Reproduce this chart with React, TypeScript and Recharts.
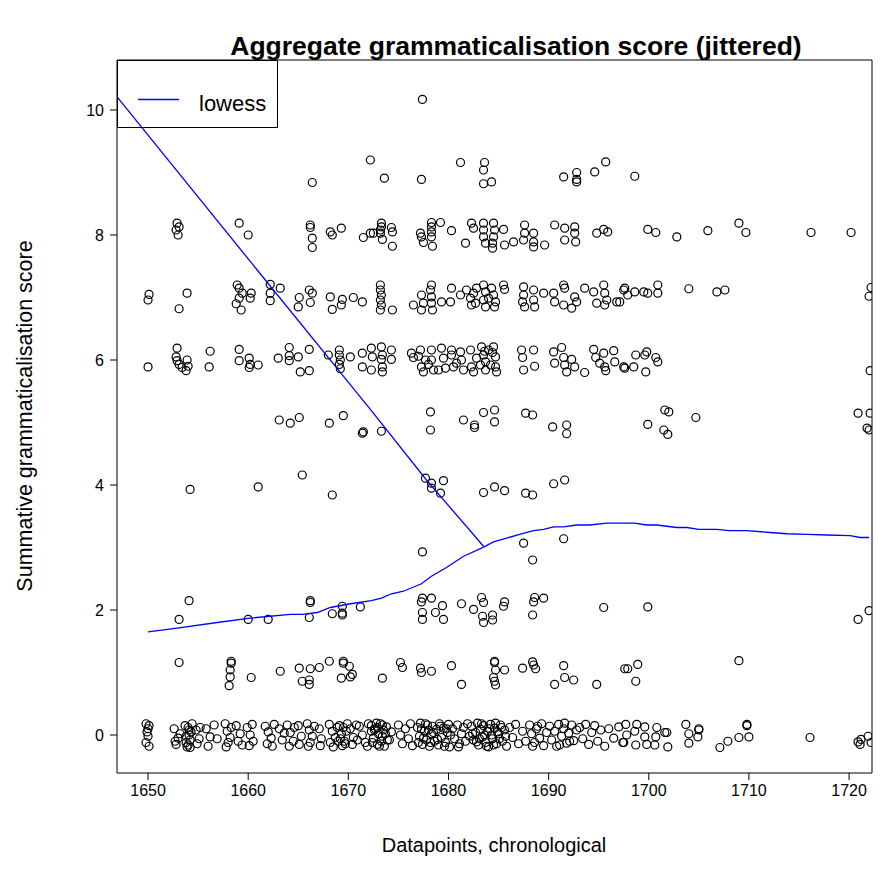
import React from "react";
import { ScatterChart, Scatter, XAxis, YAxis, ReferenceArea } from "recharts";

// jittered datapoints, grouped by (unjittered) score level: [year, score]
const score0: [number, number][] = [
  [1649.8, 0.18], [1650.1, 0.15], [1649.9, 0.05], [1650.0, -0.02], [1649.8, -0.12], [1650.1, -0.18], [1650.0, 0.1],
  [1652.6, 0.1], [1653.0, -0.05], [1652.8, -0.15], [1653.2, 0.02], [1652.7, -0.1],
  [1653.7, 0.15], [1654.0, 0.12], [1654.3, 0.05], [1653.8, -0.02], [1654.2, -0.08], [1654.0, -0.16], [1653.9, -0.19], [1654.4, 0.18], [1654.1, 0.0],
  [1654.1, 0.08], [1653.8, -0.12], [1654.2, -0.2],
  [1654.8, 0.08], [1655.1, -0.06], [1654.9, -0.14], [1655.2, 0.12],
  [1655.8, 0.1], [1656.2, -0.03], [1656.6, 0.16], [1656.0, -0.18], [1656.9, -0.06],
  [1657.7, 0.18], [1657.9, 0.06], [1658.2, -0.04], [1658.0, -0.12], [1658.3, 0.12], [1657.8, -0.19],
  [1658.8, 0.15], [1659.2, 0.02], [1659.0, -0.1], [1659.4, -0.16],
  [1659.9, 0.12], [1660.2, 0.0], [1660.5, -0.1], [1660.1, -0.17], [1660.4, 0.17],
  [1661.7, 0.14], [1662.0, 0.05], [1662.3, -0.05], [1662.6, 0.17], [1661.9, -0.14], [1662.4, -0.18],
  [1663.1, 0.1], [1663.4, -0.08], [1663.6, 0.03],
  [1663.9, 0.16], [1664.2, 0.04], [1664.5, -0.1], [1664.1, -0.18], [1664.6, 0.12],
  [1665.0, 0.15], [1665.3, -0.02], [1665.1, -0.15],
  [1665.9, 0.18], [1666.1, 0.08], [1666.4, -0.02], [1666.2, -0.12], [1666.6, 0.14], [1666.0, -0.18],
  [1667.1, 0.1], [1667.3, -0.06], [1667.2, -0.17],
  [1668.1, 0.17], [1668.4, 0.06], [1668.7, -0.04], [1668.2, -0.12], [1668.9, 0.12], [1668.5, -0.19],
  [1669.1, 0.15], [1669.3, 0.02], [1669.6, -0.1], [1669.9, 0.18], [1669.4, -0.17], [1669.8, 0.06], [1669.2, -0.06],
  [1669.5, 0.12], [1669.7, -0.14], [1669.0, -0.1],
  [1670.2, 0.1], [1670.5, -0.04], [1670.8, 0.16], [1670.4, -0.15], [1670.9, -0.08],
  [1671.1, 0.14], [1671.4, 0.0], [1671.7, -0.12], [1672.0, 0.18], [1672.3, 0.06], [1671.9, -0.18],
  [1672.3, 0.15], [1672.5, -0.05], [1672.7, 0.1], [1672.9, -0.15], [1673.0, 0.02], [1673.2, 0.18], [1673.3, -0.1],
  [1673.5, 0.08], [1673.6, -0.18], [1673.8, 0.13], [1673.4, -0.02], [1672.8, 0.19],
  [1672.4, -0.12], [1672.6, 0.08], [1673.1, -0.18], [1673.7, 0.02], [1673.9, -0.08], [1672.9, 0.12], [1673.4, 0.16],
  [1674.1, -0.08], [1674.3, 0.05],
  [1675.0, 0.16], [1675.2, 0.0], [1675.4, -0.14], [1675.7, 0.1], [1676.0, -0.06], [1676.2, 0.18], [1676.4, -0.17],
  [1676.9, 0.12], [1677.1, -0.02], [1677.2, 0.19], [1677.4, -0.15], [1677.6, 0.06], [1677.8, -0.08], [1677.9, 0.16],
  [1678.1, -0.18], [1678.3, 0.02], [1678.4, 0.14], [1678.6, -0.1], [1678.8, 0.09], [1679.0, -0.16], [1679.1, 0.18],
  [1679.3, -0.04], [1679.5, 0.11], [1679.7, -0.12], [1679.9, 0.04], [1680.0, 0.17], [1680.1, -0.19], [1677.0, -0.12], [1678.0, 0.08],
  [1677.3, 0.1], [1677.5, -0.05], [1677.7, 0.18], [1678.2, -0.12], [1678.5, 0.04], [1678.9, -0.07], [1679.2, 0.14],
  [1679.6, -0.18], [1679.8, 0.1], [1680.2, 0.0],
  [1680.4, 0.1], [1680.6, -0.06], [1680.9, 0.16], [1681.1, -0.14], [1681.3, 0.02], [1681.5, 0.12], [1681.7, -0.1],
  [1681.9, 0.18], [1682.1, -0.02], [1681.0, -0.19],
  [1682.3, 0.14], [1682.5, -0.08], [1682.7, 0.04], [1682.9, 0.19], [1683.0, -0.16], [1683.2, 0.09], [1683.4, -0.03],
  [1683.5, 0.15], [1683.7, -0.12], [1683.9, 0.06], [1684.0, -0.19], [1684.2, 0.17], [1684.4, -0.06], [1684.6, 0.11],
  [1684.8, -0.14], [1685.0, 0.02], [1685.2, 0.16], [1685.4, -0.1], [1685.6, 0.08], [1685.8, -0.18], [1684.3, 0.0], [1683.1, -0.06],
  [1682.4, 0.02], [1682.8, -0.11], [1683.3, 0.18], [1683.6, 0.0], [1683.8, -0.18], [1684.1, 0.1], [1684.5, -0.16],
  [1684.7, 0.19], [1684.9, 0.05], [1685.1, -0.06], [1685.3, 0.12], [1685.7, -0.02],
  [1686.1, 0.12], [1686.4, -0.04], [1686.7, 0.17], [1687.0, -0.14], [1687.4, 0.06], [1687.7, -0.1],
  [1688.1, 0.16], [1688.3, 0.02], [1688.6, -0.12], [1688.8, 0.1], [1689.1, -0.05], [1689.3, 0.18], [1689.5, -0.17], [1689.8, 0.04],
  [1688.4, -0.18], [1688.9, 0.14],
  [1690.1, 0.14], [1690.3, -0.08], [1690.6, 0.06], [1690.8, -0.18], [1691.0, 0.17], [1691.3, -0.02], [1691.5, 0.1],
  [1691.8, -0.13], [1692.0, 0.03], [1692.3, 0.16], [1692.5, -0.09], [1692.8, 0.08],
  [1691.1, -0.16], [1691.6, 0.19], [1692.1, -0.1],
  [1693.1, 0.12], [1693.4, -0.06], [1693.7, 0.17], [1694.0, -0.15], [1694.3, 0.04], [1694.6, 0.15], [1694.9, -0.1],
  [1695.2, 0.08], [1695.6, -0.18], [1696.0, 0.1], [1696.5, -0.05], [1697.0, 0.13], [1697.4, -0.12],
  [1697.7, 0.17], [1698.8, 0.17], [1699.6, 0.13], [1700.8, 0.12], [1701.8, 0.04], [1698.6, 0.06], [1697.8, 0.0],
  [1699.6, -0.03], [1700.7, -0.03], [1697.5, -0.12], [1698.7, -0.16], [1699.8, -0.15], [1700.6, -0.16], [1701.9, -0.19], [1701.6, 0.04],
  [1703.7, 0.17], [1704.0, 0.02], [1704.0, -0.13], [1705.0, 0.1], [1704.9, -0.03], [1705.0, 0.08],
  [1707.1, -0.2], [1707.9, -0.1], [1709.0, -0.04], [1710.0, -0.03], [1709.8, 0.15], [1709.8, 0.17],
  [1716.1, -0.04],
  [1720.9, -0.11], [1721.1, -0.15], [1721.2, -0.07], [1721.9, -0.02], [1722.2, -0.12],
];

const score1: [number, number][] = [
  [1653.1, 1.16], [1658.3, 1.18], [1658.3, 1.15], [1658.2, 1.04], [1658.2, 0.93], [1658.1, 0.79], [1660.3, 0.92],
  [1663.2, 1.02], [1665.1, 1.07], [1666.2, 1.06], [1667.1, 1.08], [1665.4, 0.86], [1666.1, 0.81], [1666.1, 0.88],
  [1668.1, 1.18], [1669.5, 1.18], [1669.5, 1.15], [1670.1, 1.1], [1670.4, 0.97], [1670.2, 0.93], [1669.3, 0.91],
  [1673.4, 0.91], [1675.2, 1.16], [1675.4, 1.08], [1677.2, 1.07], [1677.3, 1.0], [1678.3, 1.02], [1680.3, 1.11],
  [1681.3, 0.81], [1684.6, 1.18], [1684.6, 1.16], [1684.7, 1.04], [1684.5, 0.92], [1684.6, 0.86], [1684.7, 0.8],
  [1685.6, 1.04], [1687.4, 1.07], [1688.4, 1.17], [1688.5, 1.12], [1688.7, 1.06], [1691.5, 1.11], [1691.6, 0.92],
  [1692.5, 0.88], [1690.6, 0.81], [1694.8, 0.81], [1697.6, 1.06], [1697.9, 1.06], [1698.9, 1.13], [1698.7, 0.86],
  [1709.0, 1.19],
];

const score2: [number, number][] = [
  [1654.1, 2.15], [1653.1, 1.85], [1660.0, 1.85], [1662.0, 1.85], [1666.2, 2.15], [1666.2, 2.12], [1666.1, 1.88],
  [1668.4, 1.94], [1669.4, 2.06], [1669.4, 1.95], [1669.4, 1.92], [1671.2, 2.05],
  [1677.4, 2.19], [1677.3, 2.13], [1678.3, 2.19], [1677.4, 1.96], [1677.4, 1.85], [1678.7, 1.96], [1679.4, 2.07],
  [1679.5, 1.85], [1681.3, 2.1], [1682.5, 2.01], [1683.3, 2.2], [1683.5, 2.12], [1683.4, 1.9], [1683.5, 1.8],
  [1684.4, 1.92], [1684.4, 1.84], [1685.5, 2.06], [1685.6, 2.13], [1688.6, 2.2], [1688.5, 2.13], [1689.5, 2.19],
  [1688.4, 1.92], [1695.5, 2.04], [1699.9, 2.05], [1720.9, 1.85], [1722.0, 1.99],
];

const score3: [number, number][] = [
  [1677.4, 2.93], [1687.5, 3.07], [1688.4, 2.8], [1691.5, 3.14],
];

const score4: [number, number][] = [
  [1654.2, 3.93], [1661.0, 3.97], [1665.4, 4.16], [1668.4, 3.84], [1677.7, 4.11], [1678.3, 4.03], [1679.5, 4.07],
  [1678.3, 3.95], [1679.2, 3.87], [1683.5, 3.88], [1684.6, 3.97], [1685.6, 3.91], [1687.7, 3.87], [1688.4, 3.84],
  [1690.5, 4.02], [1691.6, 4.08],
];

const score5: [number, number][] = [
  [1663.1, 5.04], [1664.2, 4.99], [1665.1, 5.08], [1668.1, 4.99], [1669.5, 5.11], [1671.4, 4.83], [1671.5, 4.85],
  [1673.3, 4.86], [1678.2, 5.17], [1678.2, 4.88], [1681.5, 5.04], [1682.6, 4.96], [1682.6, 4.92], [1683.5, 5.16],
  [1684.6, 5.2], [1684.6, 5.01], [1687.7, 5.15], [1688.4, 5.12], [1690.4, 4.93], [1691.8, 4.96], [1691.8, 4.82],
  [1701.6, 5.2], [1702.0, 5.17], [1699.9, 4.97], [1701.5, 4.88], [1701.9, 4.81], [1704.7, 5.08],
  [1720.9, 5.15], [1722.1, 5.15], [1721.8, 4.91], [1722.0, 4.88],
];

const score6: [number, number][] = [
  [1650.0, 5.89], [1652.9, 6.19], [1652.8, 6.05], [1652.9, 5.99], [1653.1, 5.93], [1653.4, 5.88], [1653.9, 6.0],
  [1654.0, 5.9], [1653.8, 5.83], [1656.2, 6.14], [1656.1, 5.89], [1659.1, 6.17], [1659.1, 5.99], [1660.1, 6.03],
  [1660.2, 5.93], [1660.1, 5.88], [1661.0, 5.92], [1663.0, 6.03], [1664.1, 6.2], [1664.1, 6.07], [1664.1, 5.99],
  [1665.0, 6.05], [1666.1, 6.17], [1665.2, 5.81], [1666.1, 5.83], [1668.0, 6.08],
  [1669.1, 6.16], [1669.1, 6.08], [1669.2, 6.0], [1669.1, 5.93], [1669.2, 5.86], [1670.2, 6.05], [1671.4, 6.11], [1671.4, 5.89],
  [1672.3, 6.19], [1672.4, 6.05], [1672.3, 5.84], [1673.3, 6.21], [1673.4, 6.08], [1673.3, 6.01], [1673.4, 5.89],
  [1673.4, 5.81], [1674.3, 6.16], [1674.3, 6.01],
  [1676.3, 6.11], [1676.5, 6.04], [1677.2, 6.16], [1677.3, 5.89], [1677.5, 5.81], [1678.3, 6.16], [1678.3, 6.0],
  [1678.5, 5.84], [1679.3, 6.19], [1679.5, 6.03], [1679.7, 5.87], [1680.3, 6.16], [1680.3, 6.08], [1680.5, 5.89],
  [1681.2, 6.13], [1681.3, 6.0], [1681.5, 5.84], [1682.2, 6.16], [1682.3, 5.89], [1682.5, 5.81], [1683.3, 6.21],
  [1683.5, 6.08], [1683.7, 5.97], [1683.7, 5.84], [1684.5, 6.21], [1684.7, 6.05], [1684.7, 5.89], [1684.8, 5.81],
  [1684.0, 6.16], [1684.2, 5.92], [1677.7, 6.0], [1679.0, 5.84], [1680.8, 5.95], [1682.8, 6.03],
  [1677.0, 6.06], [1678.0, 5.93], [1683.2, 5.92], [1684.4, 6.12], [1683.6, 6.14],
  [1687.3, 6.16], [1687.4, 6.04], [1687.5, 5.84], [1688.5, 6.16], [1688.6, 5.9],
  [1690.5, 6.13], [1691.3, 6.2], [1691.5, 6.04], [1691.6, 5.92], [1691.8, 5.81], [1692.3, 6.01], [1692.6, 5.89],
  [1693.6, 5.8], [1690.6, 5.95],
  [1694.5, 6.17], [1694.7, 6.04], [1695.5, 6.11], [1695.6, 5.89], [1695.7, 5.83], [1696.5, 6.15], [1696.6, 5.97],
  [1697.5, 5.89], [1695.1, 5.95],
  [1697.6, 5.87], [1698.5, 5.89], [1698.7, 6.08], [1699.6, 6.08], [1699.8, 6.13], [1699.7, 5.81], [1700.7, 6.04],
  [1700.9, 5.97], [1722.1, 5.83],
];

const score7: [number, number][] = [
  [1650.1, 7.05], [1650.0, 6.96], [1653.9, 7.07], [1653.1, 6.82], [1658.9, 7.2], [1659.1, 7.15], [1659.4, 7.07],
  [1659.1, 6.99], [1658.8, 6.9], [1659.3, 6.8], [1660.3, 7.07], [1660.2, 6.99], [1662.2, 7.21], [1662.2, 7.07],
  [1662.2, 6.95], [1663.2, 7.15], [1665.1, 7.0], [1665.0, 6.85], [1666.1, 7.12], [1666.4, 7.07], [1666.2, 6.92],
  [1668.2, 7.01], [1668.4, 6.81], [1669.3, 6.88], [1669.4, 6.97], [1670.5, 7.0], [1671.4, 6.93],
  [1673.2, 7.2], [1673.2, 7.12], [1673.3, 7.04], [1673.2, 6.96], [1673.3, 6.88], [1673.2, 6.8], [1674.4, 6.8],
  [1676.5, 6.88], [1677.3, 7.04], [1677.5, 6.91], [1677.3, 6.8], [1678.3, 7.2], [1678.2, 7.12], [1678.3, 7.01],
  [1678.3, 6.91], [1678.4, 6.8], [1679.3, 6.93], [1680.2, 6.93], [1680.3, 7.15], [1681.2, 7.04],
  [1681.8, 7.12], [1682.2, 6.99], [1682.3, 6.88], [1682.5, 7.07], [1682.7, 6.91], [1683.5, 7.2], [1683.7, 7.09],
  [1683.5, 6.96], [1683.7, 6.85], [1684.3, 7.15], [1684.5, 7.04], [1684.7, 6.93], [1684.6, 6.85], [1685.5, 7.2],
  [1685.6, 7.13], [1682.8, 7.15], [1684.0, 6.99],
  [1687.5, 7.17], [1687.5, 7.04], [1687.4, 6.93], [1687.6, 6.85], [1688.5, 7.12], [1688.5, 6.96], [1688.6, 6.85],
  [1689.5, 7.07], [1690.5, 7.07], [1690.6, 6.93], [1691.5, 7.2], [1691.6, 7.15], [1691.5, 6.88], [1692.3, 6.83],
  [1692.6, 7.01], [1692.8, 6.93], [1693.6, 7.15], [1694.5, 7.09], [1694.8, 6.91], [1695.5, 7.2], [1695.6, 7.07],
  [1695.6, 6.88], [1695.8, 6.96], [1696.8, 6.93], [1697.5, 7.12],
  [1697.1, 6.93], [1697.6, 7.15], [1697.9, 7.04], [1698.6, 7.09], [1699.5, 7.09], [1699.9, 7.07], [1700.9, 7.2],
  [1700.9, 7.07], [1704.0, 7.14], [1706.8, 7.09], [1707.6, 7.12], [1722.2, 7.16], [1722.0, 7.02],
];

const score8: [number, number][] = [
  [1652.9, 8.19], [1653.1, 8.13], [1652.8, 8.08], [1653.0, 8.0], [1659.1, 8.19], [1660.0, 8.0], [1666.2, 8.16],
  [1666.2, 8.12], [1666.4, 7.95], [1666.4, 7.8], [1668.2, 8.05], [1668.4, 8.0], [1669.3, 8.11], [1671.5, 7.96],
  [1672.2, 8.03], [1672.5, 8.03], [1673.3, 8.19], [1673.3, 8.13], [1673.2, 8.08], [1673.2, 8.03], [1673.4, 7.93],
  [1674.3, 8.12], [1674.4, 8.05], [1674.4, 7.82],
  [1677.2, 8.03], [1677.3, 7.97], [1677.5, 7.88], [1678.3, 8.2], [1678.3, 8.13], [1678.3, 8.05], [1678.3, 7.97],
  [1678.4, 7.82], [1679.2, 8.2], [1680.3, 8.07], [1681.7, 7.87],
  [1682.3, 8.19], [1682.5, 8.11], [1683.5, 8.19], [1683.5, 8.08], [1683.5, 7.97], [1683.7, 7.87], [1684.5, 8.19],
  [1684.6, 8.08], [1684.5, 7.97], [1684.4, 7.87], [1684.4, 7.79], [1685.5, 8.09], [1685.6, 7.84],
  [1686.5, 7.89], [1687.5, 7.92], [1687.6, 8.16], [1687.6, 8.03], [1688.5, 8.03], [1688.5, 7.89], [1688.5, 7.81],
  [1689.6, 7.84], [1690.6, 8.16], [1691.6, 8.11], [1691.6, 7.92], [1692.6, 8.13], [1692.6, 8.03], [1692.7, 7.89],
  [1694.8, 8.03], [1695.5, 8.09], [1695.9, 8.05],
  [1699.9, 8.09], [1700.7, 8.04], [1702.8, 7.97], [1705.9, 8.07], [1709.0, 8.19], [1709.7, 8.04], [1716.2, 8.04],
  [1720.2, 8.04],
];

const score9: [number, number][] = [
  [1666.4, 8.84], [1672.2, 9.2], [1673.6, 8.91], [1677.3, 8.89], [1681.2, 9.16], [1683.6, 9.16], [1683.5, 9.04],
  [1683.5, 8.82], [1684.3, 8.85], [1691.5, 8.93], [1692.8, 9.0], [1692.8, 8.89], [1692.8, 8.85], [1694.6, 9.01],
  [1695.7, 9.17], [1698.6, 8.94],
];

const score10: [number, number][] = [[1677.4, 10.17]];

// lowess curve as drawn: a falling stretch, then a separate rising one
const lowessAX = [1646.0, 1660.9, 1672.4, 1677.8, 1683.5];
const lowessAY = [10.39, 7.44, 5.17, 4.08, 3.02];
const lowessBX = [
  1650.0, 1652.9, 1656.9, 1660.2, 1664.2, 1665.4, 1666.9, 1668.2, 1670.2, 1672.3, 1673.3, 1674.3, 1675.5,
  1677.3, 1678.3, 1679.8, 1681.5, 1683.3, 1684.5, 1685.8, 1687.1, 1688.5, 1689.5, 1690.5, 1691.5, 1692.8,
  1694.1, 1695.8, 1697.4, 1698.6, 1699.8, 1700.8, 1702.8, 1703.8, 1705.0, 1706.8, 1708.0, 1709.8, 1712.1,
  1713.8, 1715.8, 1717.8, 1720.1, 1721.1, 1722.0,
];
const lowessBY = [
  1.65, 1.71, 1.8, 1.87, 1.93, 1.93, 1.96, 2.04, 2.1, 2.15, 2.19, 2.26, 2.3,
  2.42, 2.54, 2.68, 2.86, 2.99, 3.09, 3.15, 3.21, 3.27, 3.29, 3.33, 3.33, 3.36,
  3.36, 3.39, 3.39, 3.39, 3.36, 3.36, 3.32, 3.32, 3.29, 3.29, 3.27, 3.27, 3.24,
  3.22, 3.21, 3.2, 3.19, 3.16, 3.16,
];

const xTicks = [1650, 1660, 1670, 1680, 1690, 1700, 1710, 1720];
const yTicks = [0, 2, 4, 6, 8, 10];
const xDomain: [number, number] = [1646.9, 1722.29];
const yDomain: [number, number] = [-0.608, 10.8];

const points = [score0, score1, score2, score3, score4, score5, score6, score7, score8, score9, score10]
  .flat()
  .map(([x, y]) => ({ x, y }));
const lowessA = lowessAX.map((x, i) => ({ x, y: lowessAY[i] }));
const lowessB = lowessBX.map((x, i) => ({ x, y: lowessBY[i] }));

const FONT = "'Liberation Sans', Arial, Helvetica, sans-serif";
const BLUE = "#0000ff";

const OpenCircle = (props: any) => {
  const { cx, cy } = props;
  if (cx == null || cy == null) return <g />;
  return <circle cx={cx} cy={cy} r={4} fill="none" stroke="#000" strokeWidth={1.2} />;
};

const NoDot = () => <g />;

export default function App() {
  return (
    <div style={{ position: "absolute", left: 0, top: 0, width: 887, height: 885, background: "#fff", fontFamily: FONT }}>
      <ScatterChart width={887} height={885} margin={{ top: 60, right: 15, bottom: 72, left: 57 }}>
        <XAxis
          type="number"
          dataKey="x"
          domain={xDomain}
          ticks={xTicks}
          allowDataOverflow
          axisLine={false}
          tickSize={7}
          tickMargin={5}
          height={40}
          tickLine={{ stroke: "#000" }}
          tick={{ fill: "#000", fontSize: 16, fontFamily: FONT }}
        />
        <YAxis
          type="number"
          dataKey="y"
          domain={yDomain}
          ticks={yTicks}
          allowDataOverflow
          axisLine={false}
          tickSize={7}
          tickMargin={6}
          width={60}
          tickLine={{ stroke: "#000" }}
          tick={{ fill: "#000", fontSize: 16, fontFamily: FONT }}
        />
        <Scatter data={points} shape={OpenCircle} isAnimationActive={false} />
        <Scatter data={lowessA} line={{ stroke: BLUE, strokeWidth: 1.3 }} shape={NoDot} isAnimationActive={false} />
        <Scatter data={lowessB} line={{ stroke: BLUE, strokeWidth: 1.3 }} shape={NoDot} isAnimationActive={false} />
        <ReferenceArea
          x1={xDomain[0]}
          x2={xDomain[1]}
          y1={yDomain[0]}
          y2={yDomain[1]}
          fill="none"
          stroke="#000"
          strokeWidth={1}
          ifOverflow="visible"
        />
      </ScatterChart>
      <svg
        width={887}
        height={885}
        style={{ position: "absolute", left: 0, top: 0, pointerEvents: "none" }}
        fontFamily={FONT}
      >
        <text x={516} y={55} textAnchor="middle" fontSize={26.5} fontWeight="bold" fill="#000">
          Aggregate grammaticalisation score (jittered)
        </text>
        <text x={494} y={852} textAnchor="middle" fontSize={20} fill="#000">
          Datapoints, chronological
        </text>
        <text
          x={0}
          y={0}
          transform="translate(32,416) rotate(-90)"
          textAnchor="middle"
          fontSize={21.5}
          fill="#000"
        >
          Summative grammaticalisation score
        </text>
        <rect x={117.5} y={60.5} width={160} height={67} fill="none" stroke="#000" strokeWidth={1} />
        <line x1={138} y1={99.5} x2={179} y2={99.5} stroke={BLUE} strokeWidth={1.3} />
        <text x={199} y={111} fontSize={22} fill="#000">
          lowess
        </text>
      </svg>
    </div>
  );
}
